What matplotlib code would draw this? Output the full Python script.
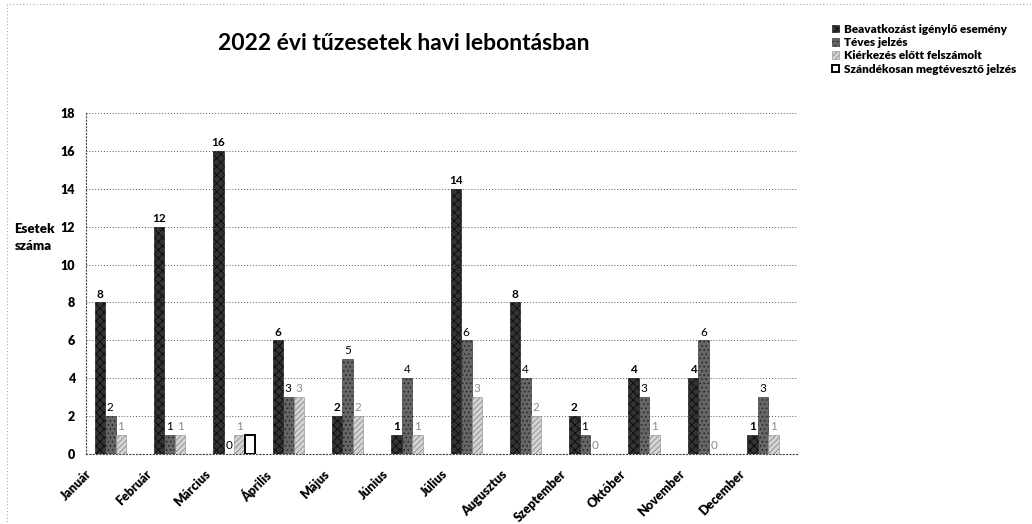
import numpy as np
import matplotlib
matplotlib.use('Agg')
import matplotlib.pyplot as plt
from matplotlib import rcParams
from matplotlib.transforms import ScaledTranslation
from matplotlib.patches import Rectangle, Patch

# Set plot parameters
rcParams['font.family'] = ['Lato', 'DejaVu Sans']
rcParams['font.size'] = 8
rcParams['hatch.linewidth'] = 0.6

# Monthly data (2022)
months = ['Január', 'Február', 'Március', 'Április', 'Május', 'Június',
          'Július', 'Augusztus', 'Szeptember', 'Október', 'November', 'December']
beavatkozas = [8, 12, 16, 6, 2, 1, 14, 8, 2, 4, 4, 1]
teves = [2, 1, 0, 3, 5, 4, 6, 4, 1, 3, 6, 3]
kierkezes_elott = [1, 1, 1, 3, 2, 1, 3, 2, 0, 1, 0, 1]
szandekos = [0, 0, 1, 0, 0, 0, 0, 0, 0, 0, 0, 0]

series_names = ['Beavatkozást igénylő esemény', 'Téves jelzés',
                'Kiérkezés előtt felszámolt', 'Szándékosan megtévesztő jelzés']
y_ticks = [0, 2, 4, 6, 8, 10, 12, 14, 16, 18]

fig = plt.figure(figsize=(10.32, 5.24), dpi=100)
ax = fig.add_axes([0.0833, 0.1336, 0.6897, 0.6508])

x = np.arange(len(months))
w = 0.177

styles = [
    dict(color='#333333', hatch='xxxx', edgecolor='#0a0a0a', lw=0.4),
    dict(color='#666666', hatch='....', edgecolor='#222222', lw=0.4),
    dict(color='#d4d4d4', hatch='//////', edgecolor='#8a8a8a', lw=0.4),
    dict(color='white', hatch=None, edgecolor='black', lw=1.4),
]
label_colors = ['black', 'black', '#8c8c8c', None]

all_series = [beavatkozas, teves, kierkezes_elott, szandekos]
handles = []
for i, (vals, st) in enumerate(zip(all_series, styles)):
    pos = x + (i - 1.5) * w
    # no outline on empty bars
    lws = [st['lw'] if v > 0 else 0 for v in vals]
    bars = ax.bar(pos, vals, width=w, facecolor=st['color'], hatch=st['hatch'],
                  edgecolor=st['edgecolor'], linewidth=lws, zorder=3)
    handles.append(Patch(facecolor=st['color'], hatch=st['hatch'],
                         edgecolor=st['edgecolor'], linewidth=st['lw'],
                         label=series_names[i]))
    if label_colors[i] is not None:
        ax.bar_label(bars, labels=[str(v) for v in vals], padding=2,
                     fontsize=8.5, color=label_colors[i],
                     fontweight='bold' if i == 0 else 'normal')

ax.set_xlim(-0.5, len(months) - 0.5)
ax.set_ylim(0, 18)
ax.set_yticks(y_ticks)
ax.set_yticklabels([str(t) for t in y_ticks], fontweight='heavy', fontsize=9)
ax.tick_params(axis='y', length=0, pad=8)

ax.set_xticks(x)
ax.set_xticklabels(months, rotation=45, ha='right', rotation_mode='anchor',
                   fontweight='heavy', fontsize=9)
ax.tick_params(axis='x', length=0, pad=10)
offset = ScaledTranslation(-0.30, 0, fig.dpi_scale_trans)
for lab in ax.get_xticklabels():
    lab.set_transform(lab.get_transform() + offset)

# Dotted grid and frame
ax.grid(axis='y', linestyle=(0, (1, 2)), color='#555555', linewidth=0.7, zorder=0)
for side in ['top', 'right']:
    ax.spines[side].set_visible(False)
for side in ['left', 'bottom']:
    ax.spines[side].set_linestyle((0, (1, 2)))
    ax.spines[side].set_color('#444444')
    ax.spines[side].set_linewidth(0.8)

# Axis title written horizontally next to the 12 tick
fig.text(0.014, 0.547, 'Esetek\nszáma', fontweight='heavy', fontsize=9.5,
         ha='left', va='center', linespacing=1.55)

fig.suptitle('2022 évi tűzesetek havi lebontásban', x=0.391, y=0.937,
             fontsize=16.5, fontweight='bold')

fig.legend(handles=handles, loc='upper left', bbox_to_anchor=(0.806, 0.955),
           frameon=False, prop={'weight': 'heavy', 'size': 8.5},
           handlelength=0.6, handleheight=0.6, handletextpad=0.4,
           labelspacing=0.2, borderaxespad=0, borderpad=0)

# Dotted border of the scanned chart area
fig.patches.append(Rectangle((0.007, 0.0), 0.993, 0.993, transform=fig.transFigure,
                             fill=False, linestyle=(0, (1, 3)), linewidth=0.6,
                             edgecolor='#777777'))

plt.savefig('out.png', dpi=100)
